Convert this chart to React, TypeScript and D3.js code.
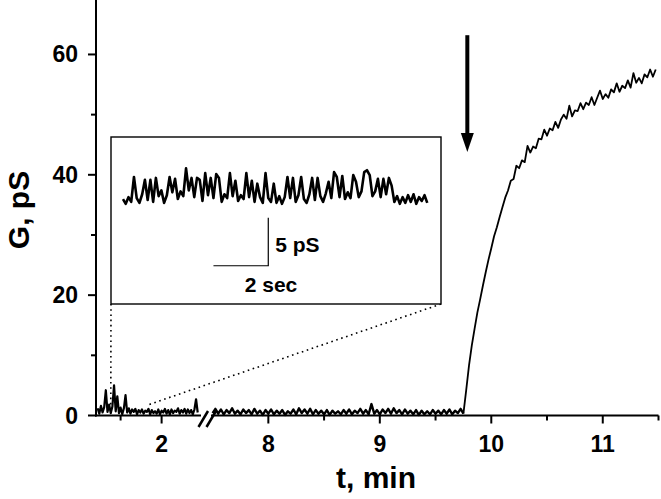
import React from 'react';
import * as d3 from 'd3';

// conductance trace, sampled records (t in min, G in pS)
const leftStart = 1.22;
const leftStep = 0.02;
const leftG = [
  1.2, 0.3, 1.6, 0.5, 1.4, 4.2, 0.6, 1.8, 0.4, 1.5, 5.0, 0.7, 3.2, 0.4, 1.3, 0.2,
  1.2, 3.4, 0.5, 1.2, 0.3, 1.0, 0.6, 1.1, 0.2, 0.9, 0.5, 1.0, 0.3, 0.8, 0.6, 1.1,
  0.2, 0.9, 0.4, 0.7, 0.3, 1.0, 0.2, 0.8, 0.5, 1.1, 0.3, 0.9, 0.2, 1.0, 0.4, 0.8,
  0.6, 1.2, 0.3, 0.9, 0.5, 1.1, 0.3, 1.0, 0.4, 0.9, 0.2, 1.0, 2.7, 0.5,
];

const rightStart = 7.5;
const rightStep = 0.025;
const rightG = [
  0.4, 1.1, 0.3, 1.0, 0.2, 0.9, 0.4, 1.2, 0.3, 0.8, 0.2, 1.0, 0.4, 0.9, 0.2, 1.1,
  0.3, 0.8, 0.1, 0.9, 0.3, 1.0, 0.2, 0.8, 0.3, 0.9, 0.1, 0.7, 0.3, 1.0, 0.2, 1.2,
  0.4, 1.0, 0.3, 1.1, 0.2, 0.9, 0.3, 0.8, 0.2, 0.9, 0.1, 0.8, 0.3, 0.7, 0.2, 0.9,
  0.3, 1.0, 0.2, 0.8, 0.4, 1.1, 0.3, 0.9, 0.2, 1.9, 0.3, 0.9, 0.2, 1.0, 0.4, 1.1,
  0.3, 1.2, 0.4, 0.9, 0.2, 1.0, 0.3, 0.8, 0.2, 0.9, 0.1, 0.8, 0.2, 0.7, 0.2, 0.9,
  0.3, 0.8, 0.2, 0.9, 0.3, 1.0, 0.2, 0.8, 0.4, 1.1, 0.3,
];

const riseStart = 9.775;
const riseStep = 0.025;
const riseG = [
  4.2, 8.3, 11.6, 14.4, 17.1, 19.3, 21.6, 23.8, 25.9, 27.8, 29.8, 31.3, 33.0, 34.6,
  36.2, 37.4, 39.0, 39.3, 41.5, 41.1, 42.4, 42.1, 44.8, 43.7, 44.7, 44.4, 46.0, 45.9,
  47.5, 46.5, 47.7, 47.4, 48.8, 47.8, 49.2, 50.0, 49.3, 51.5, 49.7, 50.7, 50.6, 51.9,
  50.9, 52.0, 51.6, 52.9, 51.6, 52.8, 54.0, 52.6, 53.4, 52.8, 54.2, 53.7, 55.2, 53.8,
  54.8, 54.4, 55.7, 54.5, 56.9, 55.3, 56.1, 55.2, 56.7, 56.2, 57.5, 56.3, 57.5,
];

// inset record (t in s, G in pS relative to baseline)
const insetStep = 0.1;
const insetG = [
  0.1, -0.4, 0.3, -0.2, 2.4, 0.2, -0.3, 0.6, 2.1, 0.0, 2.1, -0.2, 2.3, 0.4, 1.0, -0.3,
  0.5, 2.4, 0.8, 2.2, 0.1, 0.9, 0.4, 3.3, 1.0, 2.3, 0.3, 2.3, 2.1, -0.1, 2.8, 0.5,
  2.3, 0.2, 2.7, 2.3, -0.2, 0.6, 0.2, 2.8, 0.4, 2.0, -0.1, 0.5, 0.1, 2.8, 0.3, 2.0,
  -0.2, 1.7, 0.3, -0.3, 2.8, 0.2, -0.2, 1.7, -0.3, 0.4, -0.4, 0.3, 2.4, 0.2, 2.3, -0.2,
  0.5, 2.4, 0.1, -0.3, 0.6, 2.3, 0.0, 2.3, 0.4, -0.2, 0.7, 1.9, 0.2, 2.9, 2.4, 0.3,
  2.5, 0.1, 0.8, 0.2, 2.6, 1.9, 0.3, 0.9, 2.9, 3.1, 2.6, 0.4, 0.9, 2.2, 0.3, 2.2,
  0.6, 2.3, 1.5, -0.2, 0.4, -0.4, 0.3, -0.3, 0.5, -0.2, 0.6, -0.4, 0.3, -0.1, 0.5, -0.3,
];

const yTicks = [0, 20, 40, 60];
const yMinor = [10, 30, 50];
const xLeftTicks = [2];
const xLeftMinor = [1.5];
const xRightTicks = [8, 9, 10, 11];
const xRightMinor = [8.5, 9.5, 10.5, 11.5];

// annotation values
const arrowT = 9.785;
const arrowFromG = 63.2;
const arrowToG = 43.8;
const zoomFromT = 1.38;
const zoomToT = 1.82;

const W = 661;
const H = 499;
const font = '"Liberation Sans", Arial, sans-serif';

const sample = (start: number, step: number, vals: number[]) =>
  vals.map((v, i) => [start + i * step, v] as [number, number]);

export default function App() {
  const y = d3.scaleLinear().domain([0, 69]).range([415.5, 0.3]);
  const xL = d3.scaleLinear().domain([1.2, 2.44]).range([96, 197.7]);
  const xR = d3.scaleLinear().domain([7.5, 11.5]).range([212.6, 658.5]);

  const lineL = d3.line<[number, number]>().x((d) => xL(d[0])).y((d) => y(d[1]));
  const lineR = d3.line<[number, number]>().x((d) => xR(d[0])).y((d) => y(d[1]));

  const leftData = sample(leftStart, leftStep, leftG);
  const baseData = sample(rightStart, rightStep, rightG);
  const riseData = [baseData[baseData.length - 1]].concat(sample(riseStart, riseStep, riseG));

  // inset box and its own scales
  const box = { x: 111, y: 137, w: 330, h: 167 };
  const ix = d3.scaleLinear().domain([0, 11.2]).range([123, 430]);
  const iy = d3.scaleLinear().domain([0, 5]).range([200, 152]);
  const insetLine = d3
    .line<[number, number]>()
    .x((d) => ix(d[0]))
    .y((d) => iy(d[1]));
  const insetData = sample(0, insetStep, insetG);

  const y0 = y(0);
  const ax = xR(arrowT);

  return (
    <svg
      width={W}
      height={H}
      style={{ position: 'absolute', left: 0, top: 0, background: '#fff' }}
      fontFamily={font}
      fontWeight="bold"
    >
      {/* traces */}
      <path d={lineL(leftData) || ''} fill="none" stroke="#000" strokeWidth={2.2} strokeLinejoin="round" />
      <path d={lineR(baseData) || ''} fill="none" stroke="#000" strokeWidth={2.4} strokeLinejoin="round" />
      <path d={lineR(riseData) || ''} fill="none" stroke="#000" strokeWidth={1.8} strokeLinejoin="round" />

      {/* y axis */}
      <line x1={96} x2={96} y1={0} y2={y0 + 1} stroke="#000" strokeWidth={2} />
      {yTicks.map((t) => (
        <g key={'y' + t}>
          <line x1={88} x2={96} y1={y(t)} y2={y(t)} stroke="#000" strokeWidth={2} />
          <text x={78} y={y(t) + 8} textAnchor="end" fontSize={23}>
            {t}
          </text>
        </g>
      ))}
      {yMinor.map((t) => (
        <line key={'ym' + t} x1={91} x2={96} y1={y(t)} y2={y(t)} stroke="#000" strokeWidth={2} />
      ))}
      <text
        transform={`translate(29,210) rotate(-90)`}
        textAnchor="middle"
        fontSize={30}
      >
        G, pS
      </text>

      {/* x axis, broken */}
      <line x1={95} x2={201} y1={y0} y2={y0} stroke="#000" strokeWidth={2} />
      <line x1={211} x2={658.5} y1={y0} y2={y0} stroke="#000" strokeWidth={2} />
      <line x1={198.5} y1={427} x2={208} y2={411} stroke="#000" strokeWidth={2.5} />
      <line x1={206.5} y1={427} x2={216} y2={411} stroke="#000" strokeWidth={2.5} />
      {xLeftTicks.map((t) => (
        <g key={'xl' + t}>
          <line x1={xL(t)} x2={xL(t)} y1={y0} y2={y0 + 8} stroke="#000" strokeWidth={2} />
          <text x={xL(t)} y={452} textAnchor="middle" fontSize={23}>
            {t}
          </text>
        </g>
      ))}
      {xLeftMinor.map((t) => (
        <line key={'xlm' + t} x1={xL(t)} x2={xL(t)} y1={y0} y2={y0 + 5} stroke="#000" strokeWidth={2} />
      ))}
      {xRightTicks.map((t) => (
        <g key={'xr' + t}>
          <line x1={xR(t)} x2={xR(t)} y1={y0} y2={y0 + 8} stroke="#000" strokeWidth={2} />
          <text x={xR(t)} y={452} textAnchor="middle" fontSize={23}>
            {t}
          </text>
        </g>
      ))}
      {xRightMinor.map((t) => (
        <line key={'xrm' + t} x1={xR(t)} x2={xR(t)} y1={y0} y2={y0 + 5} stroke="#000" strokeWidth={2} />
      ))}
      <text x={376} y={488} textAnchor="middle" fontSize={30}>
        t, min
      </text>

      {/* zoom connectors */}
      <line
        x1={box.x}
        y1={box.y + box.h}
        x2={xL(zoomFromT)}
        y2={y(0.3)}
        stroke="#000"
        strokeWidth={1.6}
        strokeDasharray="1.6,3.6"
      />
      <line
        x1={box.x + box.w}
        y1={box.y + box.h}
        x2={xL(zoomToT)}
        y2={y(1.7)}
        stroke="#000"
        strokeWidth={1.6}
        strokeDasharray="1.6,3.6"
      />

      {/* inset */}
      <rect x={box.x} y={box.y} width={box.w} height={box.h} fill="#fff" stroke="#000" strokeWidth={1.4} />
      <path d={insetLine(insetData) || ''} fill="none" stroke="#000" strokeWidth={2.6} strokeLinejoin="round" />
      <polyline
        points={`${ix(3.3)},${iy(-6.85)} ${ix(5.3)},${iy(-6.85)} ${ix(5.3)},${iy(-1.85)}`}
        fill="none"
        stroke="#000"
        strokeWidth={1.2}
      />
      <text x={ix(5.3) + 7} y={251.5} fontSize={21}>
        5 pS
      </text>
      <text x={ix(5.4)} y={292} textAnchor="middle" fontSize={21}>
        2 sec
      </text>

      {/* arrow */}
      <line x1={ax} x2={ax} y1={y(arrowFromG)} y2={y(arrowToG) - 16} stroke="#000" strokeWidth={4} />
      <polygon
        points={`${ax - 6.5},${y(arrowToG) - 19} ${ax + 6.5},${y(arrowToG) - 19} ${ax},${y(arrowToG)}`}
        fill="#000"
      />
    </svg>
  );
}
